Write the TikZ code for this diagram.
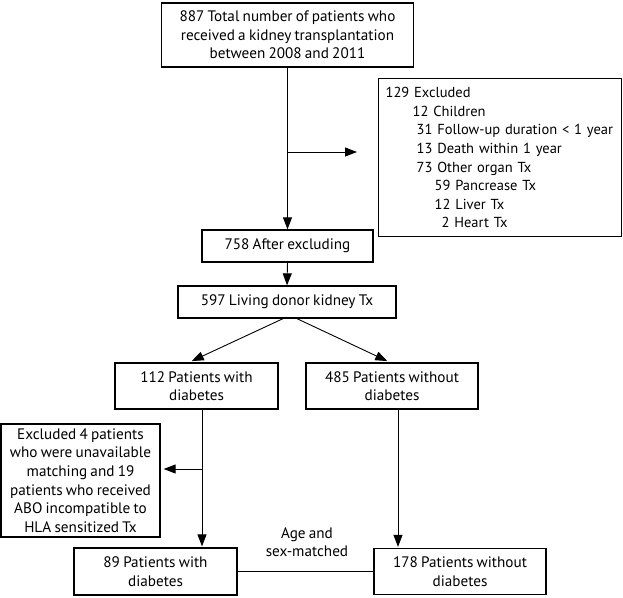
\documentclass[tikz,border=0pt]{standalone}
\usepackage{fontspec}
\setmainfont{PT Sans}[WordSpace=0.8]
\usetikzlibrary{arrows.meta}
\begin{document}
\begin{tikzpicture}[x=1pt,y=-1pt,
 box/.style={draw, line width=1.3pt, align=center, inner sep=0pt, font=\fontsize{15.2}{18.6}\selectfont},
 lbl/.style={align=center, inner sep=0pt, font=\fontsize{15.2}{18.6}\selectfont},
 arr/.style={-{Triangle[length=12pt,width=9pt]}, line width=0.9pt},
 ln/.style={line width=0.9pt}]
\useasboundingbox (0,0) rectangle (623,597);
\node[box, minimum width=252pt, minimum height=64pt] (total) at (287.5,35) {887 Total number of patients who\\received a kidney transplantation\\between 2008 and 2011};
\node[box, anchor=north west, minimum width=243pt, minimum height=158pt, align=left, text width=229pt, inner xsep=7pt, font=\fontsize{14.5}{18.6}\selectfont] (excl) at (378,78) {\mbox{129 Excluded}\\
\mbox{\hspace*{27pt}12 Children}\\
\mbox{\hspace*{31pt}31 Follow-up duration < 1 year}\\
\mbox{\hspace*{31pt}13 Death within 1 year}\\
\mbox{\hspace*{31pt}73 Other organ Tx}\\
\mbox{\hspace*{49pt}59 Pancrease Tx}\\
\mbox{\hspace*{49pt}12 Liver Tx}\\
\mbox{\hspace*{56pt}2 Heart Tx}};
\node[box, minimum width=171pt, minimum height=32pt] (after) at (287.5,246) {758 After excluding};
\node[box, minimum width=218pt, minimum height=32pt] (ldt) at (287,302) {597 Living donor kidney Tx};
\node[box, minimum width=163pt, minimum height=46pt] (d112) at (196.5,386) {112 Patients with\\diabetes};
\node[box, minimum width=172pt, minimum height=46pt] (nd485) at (392,386) {485 Patients without\\diabetes};
\node[box, minimum width=159pt, minimum height=113pt] (excl2) at (80.5,480.5) {Excluded 4 patients\\who were unavailable\\matching and 19\\patients who received\\ABO incompatible to\\HLA sensitized Tx};
\node[box, minimum width=163pt, minimum height=47pt] (d89) at (155.5,571.5) {89 Patients with\\diabetes};
\node[box, minimum width=172pt, minimum height=46pt] (nd178) at (460,571.5) {178 Patients without\\diabetes};
\node[lbl] (match) at (307,542) {Age and\\sex-matched};

\coordinate (mid) at (287.5,152);
\coordinate (br) at (202,469);
\draw[arr] (total.south) -- (after.north);
\draw[arr, shorten >=21pt] (mid) -- (excl.west |- mid);
\draw[arr] (after.south) -- (ldt.north);
\draw[arr, shorten >=3pt] ([xshift=-4pt]ldt.south) -- ([xshift=-7.5pt]d112.north);
\draw[arr, shorten >=3pt] ([xshift=10pt]ldt.south) -- ([xshift=-2pt]nd485.north);
\draw[arr, shorten >=1pt] ([xshift=5.5pt]d112.south) -- ([xshift=5.5pt]d112.south |- d89.north);
\draw[arr, shorten >=3pt] (br) -- (excl2.east |- br);
\draw[arr, shorten >=1pt] ([xshift=6pt]nd485.south) -- ([xshift=6pt]nd485.south |- nd178.north);
\draw[ln] (d89.east) -- (nd178.west);
\end{tikzpicture}
\end{document}
